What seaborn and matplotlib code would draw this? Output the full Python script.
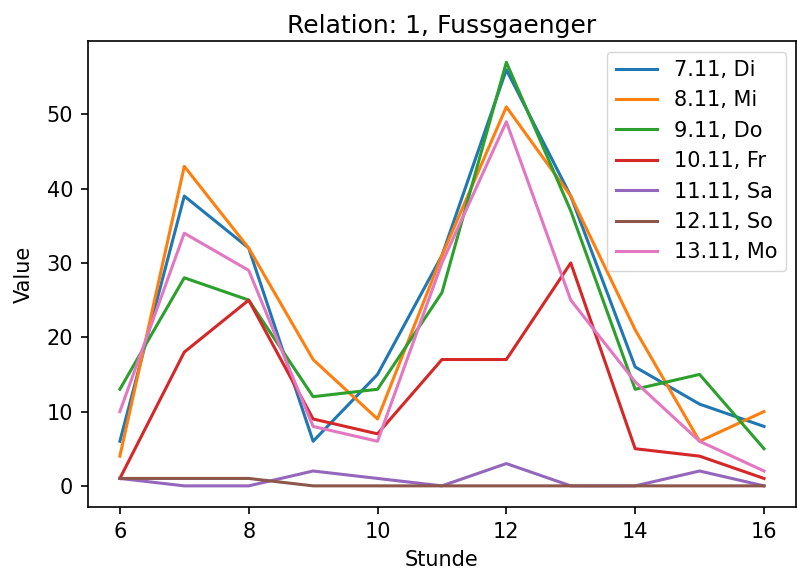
import pandas as pd
import seaborn as sns
import matplotlib.pyplot as plt

# Stunden und Zaehlwerte (Relation 1, Fussgaenger)
stunden = [6, 7, 8, 9, 10, 11, 12, 13, 14, 15, 16]
tage = ["7.11, Di", "8.11, Mi", "9.11, Do", "10.11, Fr", "11.11, Sa", "12.11, So", "13.11, Mo"]

di = [6, 39, 32, 6, 15, 31, 56, 39, 16, 11, 8]
mi = [4, 43, 32, 17, 9, 31, 51, 39, 21, 6, 10]
do = [13, 28, 25, 12, 13, 26, 57, 37, 13, 15, 5]
fr = [1, 18, 25, 9, 7, 17, 17, 30, 5, 4, 1]
sa = [1, 0, 0, 2, 1, 0, 3, 0, 0, 2, 0]
so = [1, 1, 1, 0, 0, 0, 0, 0, 0, 0, 0]
mo = [10, 34, 29, 8, 6, 30, 49, 25, 14, 6, 2]

werte = [di, mi, do, fr, sa, so, mo]
df = pd.concat(
    [pd.DataFrame({"Stunde": stunden, "Value": w, "Tag": t}) for t, w in zip(tage, werte)],
    ignore_index=True,
)

# alles ca. 1.5x der matplotlib-Standardwerte
plt.rcParams.update({
    "font.size": 15,
    "axes.titlesize": 18,
    "axes.linewidth": 1.2,
    "xtick.major.size": 5.25,
    "ytick.major.size": 5.25,
    "xtick.major.width": 1.2,
    "ytick.major.width": 1.2,
    "xtick.major.pad": 5.25,
    "ytick.major.pad": 5.25,
})

fig = plt.figure(figsize=(7.97, 5.71), dpi=100)
ax = fig.add_axes([0.110, 0.112, 0.889, 0.816])

sns.lineplot(data=df, x="Stunde", y="Value", hue="Tag", palette="tab10", linewidth=2.2, ax=ax)

ax.legend(loc="upper right", fontsize=15)
ax.set_title("Relation: 1, Fussgaenger")
ax.set_xlabel("Stunde", labelpad=6)
ax.set_ylabel("Value", labelpad=9)

fig.savefig("out.png", dpi=100)
